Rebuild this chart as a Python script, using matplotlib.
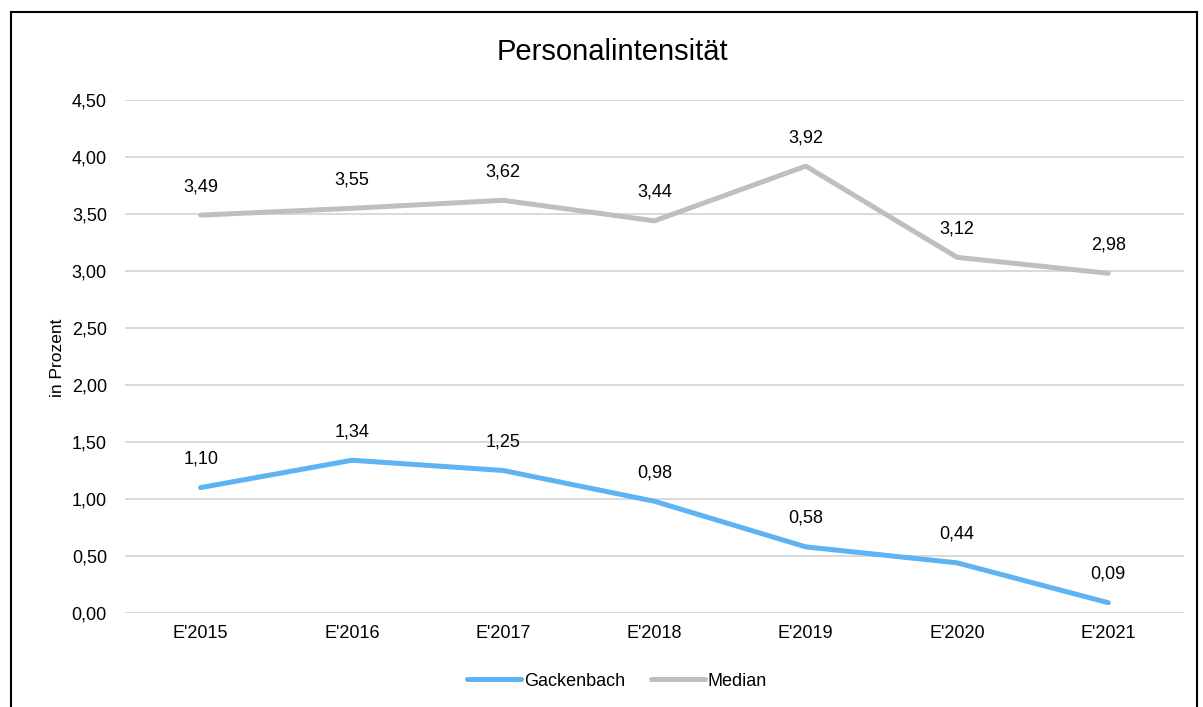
import matplotlib
matplotlib.use("Agg")
import matplotlib.pyplot as plt
from matplotlib.lines import Line2D
from matplotlib.ticker import FuncFormatter, MultipleLocator

plt.rcParams['font.family'] = ['Liberation Sans', 'DejaVu Sans']

categories = ["E'2015", "E'2016", "E'2017", "E'2018", "E'2019", "E'2020", "E'2021"]
gackenbach = [1.10, 1.34, 1.25, 0.98, 0.58, 0.44, 0.09]
median = [3.49, 3.55, 3.62, 3.44, 3.92, 3.12, 2.98]
title = "Personalintensität"
ylabel = "in Prozent"

W, H = 1203, 707
fig = plt.figure(figsize=(W/100, H/100), dpi=100)
left, right, top, bottom = 125, 1184, 100, 613
ax = fig.add_axes([left/W, 1-bottom/H, (right-left)/W, (bottom-top)/H])

x = list(range(len(categories)))
c_blue = '#5EB3F2'
c_grey = '#BFBFBF'
ax.plot(x, gackenbach, color=c_blue, lw=3.6, solid_capstyle='round', label='Gackenbach', zorder=3)
ax.plot(x, median, color=c_grey, lw=3.6, solid_capstyle='round', label='Median', zorder=3)

def fmt(v):
    return f"{v:.2f}".replace('.', ',')

for xs, ys in ((x, gackenbach), (x, median)):
    for xi, yi in zip(xs, ys):
        ax.annotate(fmt(yi), (xi, yi), xytext=(0, 20.5), textcoords='offset points',
                    ha='center', va='center', fontsize=13, color='#000000')

ax.set_xlim(-0.5, len(categories)-0.5)
ax.set_ylim(0, 4.5)
ax.yaxis.set_major_locator(MultipleLocator(0.5))
ax.yaxis.set_major_formatter(FuncFormatter(lambda v, p: fmt(v)))
ax.set_xticks(x)
ax.set_xticklabels(categories)
ax.tick_params(axis='both', length=0, labelsize=13, colors='#000000')
ax.tick_params(axis='x', pad=9)
ax.tick_params(axis='y', pad=13)
ax.grid(axis='y', color='#D9D9D9', lw=1.4)
ax.set_axisbelow(True)
for s in ax.spines.values():
    s.set_visible(False)

fig.text(57/W, 1-358/H, ylabel, rotation=90, ha='center', va='center', fontsize=12.5)
fig.text(612/W, 1-52/H, title, ha='center', va='center', fontsize=21)

leg = fig.legend(loc='center', bbox_to_anchor=(617/W, 1-681/H), ncol=2, frameon=False,
                 fontsize=13, handlelength=3.0, handletextpad=0.15, columnspacing=1.4)

# outer frame (left, top, right)
fx0, fx1, fy0 = 10.5/W, 1197/W, 1-12/H
fig.add_artist(Line2D([fx0, fx0], [0, fy0], transform=fig.transFigure, color='black', lw=1.5))
fig.add_artist(Line2D([fx0, fx1], [fy0, fy0], transform=fig.transFigure, color='black', lw=1.5))
fig.add_artist(Line2D([fx1, fx1], [0, fy0], transform=fig.transFigure, color='black', lw=1.5))

fig.savefig('out.png', dpi=100)
